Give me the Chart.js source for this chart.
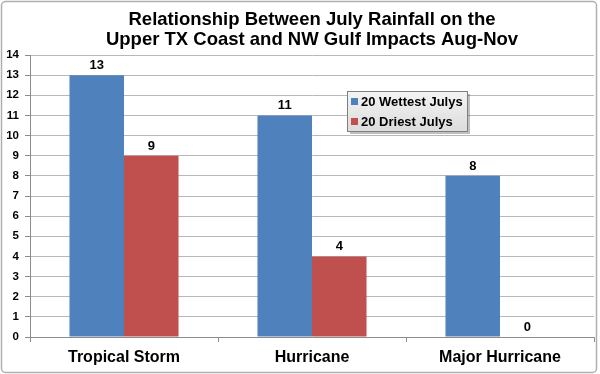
<!DOCTYPE html>
<html>
<head>
<meta charset="utf-8">
<script src="https://cdn.jsdelivr.net/npm/chart.js@4"></script>
<style>
  html, body { margin: 0; padding: 0; background: #fff; }
  #wrap { width: 600px; height: 374px; position: relative; }
</style>
</head>
<body>
<div id="wrap"><canvas id="chart" width="600" height="374"></canvas></div>
<script>
const CATEGORIES = ['Tropical Storm', 'Hurricane', 'Major Hurricane'];
const WETTEST = [13, 11, 8];
const DRIEST = [9, 4, 0];
const SERIES_NAMES = ['20 Wettest Julys', '20 Driest Julys'];
const SERIES_COLORS = ['#4F81BD', '#C0504D'];
const TITLE_LINES = ['Relationship Between July Rainfall on the', 'Upper TX Coast and NW Gulf Impacts Aug-Nov'];

Chart.defaults.font.family = "Arial, 'Liberation Sans', sans-serif";
Chart.defaults.color = '#000';

// outer frame like the exported picture
const frame = {
    id: 'frame',
    afterDraw(chart) {
        const ctx = chart.ctx;
        ctx.save();
        ctx.strokeStyle = '#b0b0b0';
        ctx.lineWidth = 1.5;
        ctx.beginPath();
        ctx.roundRect(1.5, 1.5, 595, 371, 4);
        ctx.stroke();
        ctx.restore();
    }
};

// value labels above bars
const valueLabels = {
    id: 'valueLabels',
    afterDatasetsDraw(chart) {
        const ctx = chart.ctx;
        ctx.save();
        ctx.font = 'bold 13px Arial, "Liberation Sans", sans-serif';
        ctx.fillStyle = '#000';
        ctx.textAlign = 'center';
        ctx.textBaseline = 'alphabetic';
        chart.data.datasets.forEach((ds, i) => {
            chart.getDatasetMeta(i).data.forEach((bar, j) => {
                ctx.fillText(ds.data[j], bar.x, bar.y - 6);
            });
        });
        ctx.restore();
    }
};

// legend box inside the plot
const boxLegend = {
    id: 'boxLegend',
    afterDraw(chart) {
        const ctx = chart.ctx;
        const x = 347, y = 91, w = 120, h = 40;
        ctx.save();
        ctx.fillStyle = 'rgba(0,0,0,0.25)';
        ctx.fillRect(x + 3, y + 3, w, h);
        const g = ctx.createLinearGradient(0, y, 0, y + h);
        g.addColorStop(0, '#f4f4f4');
        g.addColorStop(1, '#dcdcdc');
        ctx.fillStyle = g;
        ctx.fillRect(x, y, w, h);
        ctx.strokeStyle = '#7f7f7f';
        ctx.lineWidth = 1;
        ctx.strokeRect(x + 0.5, y + 0.5, w, h);
        ctx.font = 'bold 13px Arial, "Liberation Sans", sans-serif';
        ctx.textBaseline = 'middle';
        chart.data.datasets.forEach((ds, i) => {
            const cy = y + 10 + i * 20;
            ctx.fillStyle = ds.backgroundColor;
            ctx.fillRect(x + 4, cy - 3, 7, 7);
            ctx.fillStyle = '#000';
            ctx.fillText(ds.label, x + 14, cy + 1);
        });
        ctx.restore();
    }
};

new Chart(document.getElementById('chart'), {
    type: 'bar',
    data: {
        labels: CATEGORIES,
        datasets: [
            { label: SERIES_NAMES[0], data: WETTEST, backgroundColor: SERIES_COLORS[0] },
            { label: SERIES_NAMES[1], data: DRIEST, backgroundColor: SERIES_COLORS[1] },
        ],
    },
    options: {
        responsive: false,
        animation: false,
        layout: { padding: { left: 0, right: 6, top: 0, bottom: 0 } },
        datasets: { bar: { categoryPercentage: 0.58, barPercentage: 1.0 } },
        plugins: {
            legend: { display: false },
            tooltip: { enabled: false },
            title: {
                display: true,
                text: TITLE_LINES,
                fullSize: false,
                color: '#000',
                font: { size: 18.5, weight: 'bold', lineHeight: '20px' },
                padding: { top: 10, bottom: 5 },
            },
        },
        scales: {
            x: {
                afterFit(s) { s.height = 37; },
                grid: { drawOnChartArea: false, drawTicks: true, tickLength: 5, color: '#8c8c8c', offset: true },
                border: { color: '#8c8c8c' },
                ticks: { color: '#000', font: { size: 16, weight: 'bold' }, padding: 6 },
            },
            y: {
                min: 0,
                max: 14,
                afterFit(s) { s.width = 30; },
                grid: { color: '#b8b8b8', tickLength: 5, tickColor: '#8c8c8c' },
                border: { color: '#8c8c8c' },
                ticks: { stepSize: 1, color: '#000', font: { size: 11.5, weight: 'bold' }, padding: 6 },
            },
        },
    },
    plugins: [valueLabels, boxLegend, frame],
});
</script>
</body>
</html>
